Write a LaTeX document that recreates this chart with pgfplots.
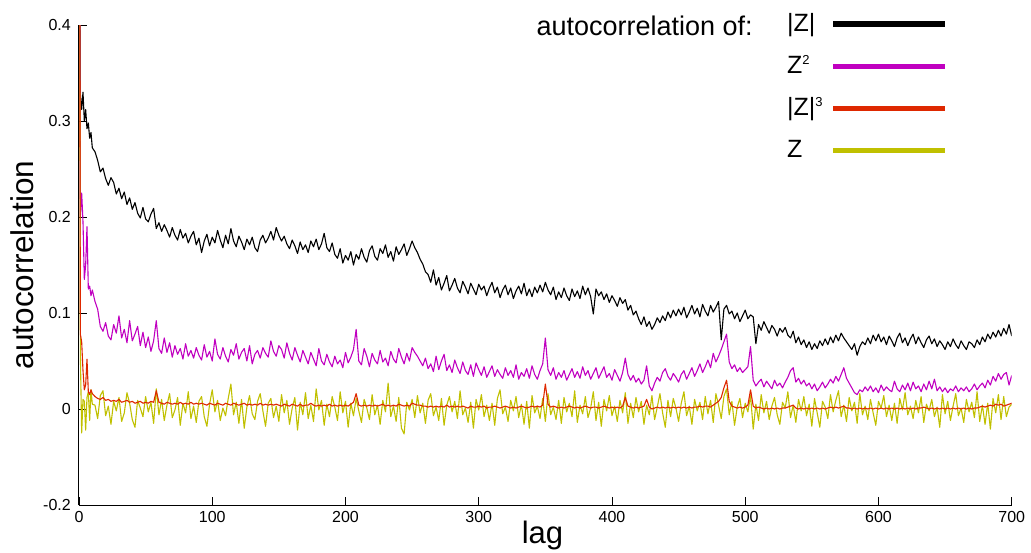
\documentclass[border=0pt]{standalone}
\usepackage{fontspec}
\setmainfont{Liberation Sans}
\usepackage{pgfplots}
\pgfplotsset{compat=1.18}
\usepackage{pgfplotstable}
\definecolor{cmag}{RGB}{192,0,192}
\definecolor{cred}{RGB}{222,40,0}
\definecolor{cyel}{RGB}{192,192,0}

\pgfplotstableread{
lag B M R Y
0 1 1 1 1
1 0.328 0.200 0.078 0.060
2 0.312 0.225 0.070 -0.025
3 0.330 0.195 0.040 0.010
4 0.300 0.135 0.020 0.008
5 0.312 0.150 0.025 -0.022
6 0.292 0.190 0.052 0.012
7 0.298 0.125 0.018 0.018
8 0.282 0.128 0.015 -0.012
9 0.288 0.118 0.020 0.020
10 0.272 0.124 0.016 0.005
12 0.268 0.112 0.013 0.004
14 0.259 0.104 0.011 -0.010
16 0.247 0.086 0.010 0.014
18 0.251 0.081 0.012 0.019
20 0.240 0.090 0.009 -0.007
22 0.233 0.076 0.010 0.003
24 0.241 0.072 0.008 -0.016
26 0.236 0.088 0.009 0.008
28 0.224 0.079 0.008 -0.002
30 0.230 0.097 0.010 0.012
32 0.219 0.074 0.007 -0.013
34 0.226 0.083 0.008 -0.004
36 0.213 0.069 0.009 0.017
38 0.220 0.092 0.007 0.006
40 0.208 0.071 0.008 -0.011
42 0.215 0.078 0.006 -0.019
44 0.204 0.086 0.007 0.009
46 0.199 0.066 0.008 0.001
48 0.210 0.080 0.006 -0.008
50 0.198 0.064 0.007 0.013
52 0.195 0.075 0.006 -0.003
54 0.203 0.060 0.008 0.007
56 0.209 0.071 0.007 -0.015
58 0.188 0.092 0.019 0.021
60 0.194 0.063 0.007 -0.006
62 0.185 0.058 0.006 0.010
64 0.192 0.074 0.005 -0.012
66 0.186 0.059 0.007 0.004
68 0.179 0.069 0.006 0.016
70 0.189 0.054 0.005 -0.009
72 0.181 0.066 0.006 -0.001
74 0.176 0.057 0.005 0.012
76 0.187 0.063 0.007 -0.017
78 0.178 0.052 0.005 0.006
80 0.183 0.068 0.006 -0.004
82 0.173 0.055 0.005 0.018
84 0.180 0.061 0.007 -0.010
86 0.185 0.053 0.005 0.003
88 0.171 0.064 0.006 -0.014
90 0.178 0.056 0.005 0.008
92 0.163 0.051 0.006 0.013
94 0.175 0.067 0.005 -0.008
96 0.182 0.054 0.004 -0.018
98 0.170 0.060 0.006 0.005
100 0.179 0.050 0.005 0.020
102 0.173 0.073 0.004 -0.003
104 0.186 0.057 0.006 0.009
106 0.176 0.052 0.005 -0.012
108 0.168 0.064 0.004 0.001
110 0.181 0.055 0.006 -0.007
112 0.172 0.049 0.005 0.011
114 0.188 0.062 0.004 0.026
116 0.175 0.056 0.006 -0.006
118 0.169 0.068 0.005 0.007
120 0.180 0.052 0.004 -0.015
122 0.174 0.059 0.005 0.010
124 0.166 0.063 0.006 -0.020
126 0.177 0.050 0.004 0.002
128 0.171 0.066 0.005 0.014
130 0.179 0.047 0.004 -0.005
132 0.168 0.057 0.005 -0.011
134 0.164 0.061 0.004 0.008
136 0.176 0.053 0.006 0.016
138 0.181 0.064 0.004 -0.002
140 0.173 0.058 0.005 -0.018
142 0.178 0.054 0.004 0.006
144 0.185 0.071 0.005 0.011
146 0.176 0.060 0.004 -0.009
148 0.189 0.055 0.005 0.003
150 0.181 0.066 0.004 -0.013
152 0.175 0.062 0.003 0.015
154 0.180 0.053 0.005 -0.004
156 0.172 0.069 0.004 0.009
158 0.167 0.058 0.003 -0.016
160 0.176 0.051 0.005 0.001
162 0.170 0.064 0.004 0.012
164 0.162 0.056 0.003 -0.022
166 0.174 0.049 0.005 0.007
168 0.166 0.061 0.003 -0.006
170 0.171 0.054 0.004 0.017
172 0.163 0.047 0.004 -0.010
174 0.175 0.059 0.006 0.004
176 0.169 0.052 0.004 -0.013
178 0.177 0.045 0.003 0.021
180 0.166 0.063 0.004 -0.001
182 0.172 0.050 0.003 0.009
184 0.183 0.046 0.004 -0.017
186 0.168 0.057 0.003 0.005
188 0.164 0.049 0.005 -0.008
190 0.173 0.044 0.003 0.013
192 0.161 0.055 0.004 0.002
194 0.157 0.047 0.003 -0.012
196 0.167 0.051 0.004 0.018
198 0.152 0.043 0.003 -0.004
200 0.160 0.059 0.004 0.008
202 0.155 0.048 0.003 -0.019
204 0.164 0.054 0.005 0.006
206 0.150 0.062 0.007 -0.007
208 0.161 0.083 0.016 0.011
210 0.156 0.050 0.004 -0.002
212 0.167 0.046 0.003 -0.014
214 0.158 0.063 0.004 0.010
216 0.153 0.055 0.003 0.001
218 0.165 0.044 0.004 -0.011
220 0.170 0.058 0.003 0.015
222 0.159 0.051 0.004 -0.006
224 0.155 0.047 0.003 0.004
226 0.167 0.061 0.004 -0.016
228 0.162 0.049 0.005 0.009
230 0.171 0.053 0.003 -0.003
232 0.158 0.045 0.004 0.027
234 0.164 0.060 0.003 -0.008
236 0.154 0.052 0.004 0.003
238 0.169 0.048 0.003 -0.013
240 0.161 0.063 0.005 0.012
242 0.166 0.054 0.004 -0.020
244 0.172 0.047 0.003 -0.026
246 0.160 0.058 0.004 0.007
248 0.167 0.050 0.003 -0.001
250 0.175 0.064 0.006 0.010
252 0.168 0.059 0.005 -0.009
254 0.163 0.055 0.004 0.014
256 0.156 0.050 0.004 -0.004
258 0.151 0.045 0.003 0.006
260 0.143 0.053 0.003 -0.015
262 0.140 0.042 0.002 0.009
264 0.132 0.047 0.003 0.016
266 0.145 0.039 0.002 -0.007
268 0.129 0.055 0.003 0.002
270 0.137 0.041 0.002 -0.012
272 0.124 0.050 0.003 0.011
274 0.131 0.057 0.002 -0.017
276 0.139 0.040 0.004 0.004
278 0.123 0.046 0.002 0.013
280 0.129 0.038 0.003 -0.003
282 0.136 0.051 0.002 0.008
284 0.126 0.043 0.003 -0.010
286 0.121 0.037 0.002 0.019
288 0.133 0.049 0.003 -0.006
290 0.127 0.040 0.002 0.001
292 0.120 0.036 0.001 -0.014
294 0.131 0.046 0.003 0.007
296 0.125 0.034 0.002 -0.020
298 0.119 0.048 0.002 0.010
300 0.130 0.041 0.003 -0.001
302 0.124 0.035 0.002 0.015
304 0.128 0.044 0.003 -0.008
306 0.118 0.033 0.001 0.004
308 0.126 0.039 0.002 -0.012
310 0.132 0.045 0.002 0.006
312 0.121 0.034 0.003 -0.017
314 0.127 0.041 0.002 0.011
316 0.116 0.036 0.001 0.020
318 0.124 0.032 0.002 -0.005
320 0.129 0.043 0.003 0.002
322 0.119 0.035 0.002 -0.013
324 0.126 0.040 0.001 0.009
326 0.115 0.033 0.002 -0.002
328 0.123 0.046 0.001 0.013
330 0.128 0.031 0.002 -0.009
332 0.120 0.038 0.003 0.005
334 0.131 0.034 0.002 -0.016
336 0.118 0.042 0.001 0.008
338 0.125 0.032 0.002 -0.020
340 0.117 0.045 0.003 0.014
342 0.127 0.036 0.002 -0.004
344 0.121 0.031 0.003 0.003
346 0.129 0.040 0.002 -0.010
348 0.122 0.047 0.004 0.011
350 0.132 0.074 0.026 -0.013
352 0.124 0.041 0.005 0.016
354 0.119 0.035 0.002 -0.006
356 0.127 0.043 0.003 0.002
358 0.114 0.031 0.002 -0.011
360 0.122 0.038 0.001 0.009
362 0.116 0.033 0.002 -0.015
364 0.126 0.040 0.001 0.012
366 0.118 0.030 0.002 -0.003
368 0.113 0.036 0.003 0.006
370 0.125 0.042 0.002 -0.008
372 0.117 0.033 0.001 0.019
374 0.123 0.039 0.002 -0.014
376 0.115 0.032 0.001 0.004
378 0.128 0.044 0.002 -0.005
380 0.119 0.035 0.003 0.013
382 0.126 0.040 0.002 -0.009
384 0.117 0.031 0.001 0.001
386 0.099 0.037 0.002 0.018
388 0.125 0.043 0.002 -0.012
390 0.118 0.032 0.001 0.007
392 0.122 0.038 0.002 -0.018
394 0.114 0.044 0.003 0.010
396 0.120 0.033 0.002 -0.002
398 0.111 0.037 0.001 0.014
400 0.118 0.030 0.002 -0.007
402 0.113 0.041 0.001 0.003
404 0.107 0.035 0.002 -0.013
406 0.116 0.029 0.001 0.009
408 0.110 0.038 0.003 -0.004
410 0.114 0.053 0.012 0.017
412 0.103 0.036 0.003 -0.015
414 0.108 0.030 0.002 0.006
416 0.098 0.035 0.001 -0.009
418 0.102 0.028 0.002 0.012
420 0.094 0.032 0.001 -0.003
422 0.088 0.026 0.002 0.008
424 0.096 0.030 0.003 -0.016
426 0.086 0.045 0.010 0.004
428 0.091 0.024 0.002 -0.006
430 0.083 0.019 0.000 0.014
432 0.088 0.027 0.001 -0.011
434 0.095 0.033 0.002 0.002
436 0.090 0.029 0.001 0.016
438 0.097 0.038 0.002 -0.004
440 0.092 0.042 0.001 -0.019
442 0.101 0.034 0.002 0.009
444 0.095 0.030 0.001 -0.008
446 0.103 0.037 0.002 0.011
448 0.097 0.033 0.001 0.001
450 0.104 0.028 0.002 -0.013
452 0.098 0.036 0.001 0.006
454 0.106 0.040 0.002 0.018
456 0.095 0.031 0.001 -0.007
458 0.101 0.037 0.002 0.003
460 0.108 0.043 0.001 -0.016
462 0.099 0.034 0.002 0.010
464 0.105 0.040 0.002 -0.002
466 0.096 0.047 0.003 0.007
468 0.109 0.038 0.002 -0.011
470 0.102 0.044 0.003 0.013
472 0.097 0.051 0.003 -0.005
474 0.108 0.043 0.002 0.009
476 0.101 0.058 0.004 -0.014
478 0.106 0.049 0.006 0.016
480 0.112 0.055 0.008 0.004
482 0.072 0.062 0.012 -0.010
484 0.104 0.070 0.022 0.013
486 0.108 0.078 0.030 0.021
488 0.099 0.049 0.008 -0.006
490 0.102 0.042 0.003 0.008
492 0.094 0.046 0.002 -0.017
494 0.100 0.039 0.001 0.002
496 0.091 0.043 0.002 0.011
498 0.097 0.038 0.001 -0.009
500 0.103 0.041 0.002 0.006
502 0.094 0.044 0.004 -0.003
504 0.098 0.065 0.020 0.014
506 0.096 0.030 0.003 -0.021
508 0.068 0.024 0.001 0.005
510 0.088 0.028 0.002 -0.012
512 0.082 0.031 0.001 0.015
514 0.091 0.023 0.000 -0.004
516 0.085 0.029 0.001 0.008
518 0.079 0.025 0.000 -0.011
520 0.087 0.021 0.001 0.003
522 0.083 0.030 0.000 0.012
524 0.076 0.024 0.001 -0.006
526 0.084 0.027 0.000 -0.016
528 0.080 0.022 0.001 0.007
530 0.085 0.028 0.001 0.001
532 0.077 0.033 0.002 0.018
534 0.074 0.040 0.003 -0.009
536 0.081 0.043 0.004 0.004
538 0.069 0.028 0.001 -0.014
540 0.075 0.032 0.000 0.010
542 0.067 0.026 0.001 -0.002
544 0.072 0.030 0.000 0.013
546 0.064 0.024 0.001 -0.007
548 0.070 0.027 0.000 0.005
550 0.062 0.021 0.001 -0.018
552 0.068 0.026 0.000 0.011
554 0.063 0.019 0.001 -0.004
556 0.071 0.023 0.000 -0.019
558 0.066 0.028 0.001 0.008
560 0.073 0.022 0.000 0.002
562 0.067 0.026 0.001 -0.010
564 0.075 0.031 0.002 0.015
566 0.069 0.027 0.001 -0.003
568 0.077 0.034 0.002 0.009
570 0.071 0.029 0.001 0.019
572 0.079 0.036 0.002 -0.008
574 0.074 0.043 0.003 0.004
576 0.070 0.032 0.001 -0.013
578 0.066 0.027 0.001 0.012
580 0.062 0.022 0.000 -0.002
582 0.068 0.017 0.001 0.007
584 0.056 0.015 0.000 -0.015
586 0.065 0.020 0.001 0.016
588 0.070 0.018 0.000 -0.006
590 0.067 0.023 0.001 0.003
592 0.074 0.019 0.000 -0.011
594 0.068 0.024 0.001 0.010
596 0.077 0.018 0.000 -0.004
598 0.071 0.022 0.001 -0.017
600 0.078 0.017 0.000 0.008
602 0.070 0.025 0.001 0.001
604 0.075 0.019 0.000 0.014
606 0.067 0.023 0.001 -0.008
608 0.076 0.020 0.000 0.004
610 0.071 0.018 0.001 -0.012
612 0.065 0.029 0.000 0.006
614 0.074 0.021 0.001 -0.015
616 0.079 0.018 0.000 0.011
618 0.069 0.025 0.001 -0.001
620 0.074 0.020 0.000 0.017
622 0.066 0.027 0.001 -0.006
624 0.073 0.019 0.000 0.003
626 0.078 0.028 0.001 -0.010
628 0.068 0.021 0.000 0.009
630 0.075 0.024 0.001 -0.004
632 0.069 0.018 0.001 0.013
634 0.064 0.026 0.002 -0.014
636 0.072 0.020 0.001 0.005
638 0.076 0.029 0.000 -0.002
640 0.068 0.021 0.001 0.010
642 0.073 0.031 0.000 -0.008
644 0.065 0.019 0.001 0.002
646 0.071 0.023 0.000 -0.019
648 0.067 0.018 0.001 0.015
650 0.062 0.022 0.000 -0.005
652 0.070 0.017 0.001 0.008
654 0.065 0.021 0.000 -0.012
656 0.073 0.019 0.001 0.003
658 0.067 0.024 0.000 0.016
660 0.063 0.018 0.001 -0.007
662 0.071 0.022 0.000 0.001
664 0.066 0.019 0.001 -0.014
666 0.062 0.023 0.000 0.010
668 0.070 0.018 0.001 -0.003
670 0.068 0.021 0.000 0.007
672 0.064 0.026 0.001 -0.009
674 0.072 0.020 0.001 0.018
676 0.067 0.024 0.002 -0.013
678 0.075 0.027 0.003 0.004
680 0.070 0.022 0.002 -0.016
682 0.078 0.030 0.003 0.006
684 0.073 0.025 0.004 -0.021
686 0.080 0.034 0.003 0.011
688 0.075 0.029 0.005 -0.004
690 0.082 0.037 0.004 0.015
692 0.076 0.031 0.005 -0.011
694 0.084 0.036 0.003 0.013
696 0.078 0.038 0.004 -0.008
698 0.088 0.025 0.005 0.002
700 0.076 0.035 0.006 0.005
}\acf

\begin{document}
\begin{tikzpicture}
\begin{axis}[
  at={(0,0)}, anchor=south west,
  scale only axis, width=932.7pt, height=480pt,
  xmin=0, xmax=700, ymin=-0.1, ymax=0.4,
  axis lines*=left,
  axis line style={line width=1pt, black},
  tick align=inside, major tick length=8pt,
  tick style={line width=0.8pt, black},
  xtick={0,100,...,700},
  ytick={-0.1,0,0.1,0.2,0.3,0.4},
  yticklabels={-0.2,0,0.1,0.2,0.3,0.4},
  /pgf/number format/assume math mode=true,
  ticklabel style={font=\fontsize{16}{18}\selectfont},
  xticklabel style={anchor=north, inner sep=0pt, yshift=-6.5pt},
  yticklabel style={anchor=east, inner sep=0pt, xshift=-8pt},
  xlabel={lag}, ylabel={autocorrelation},
  xlabel style={at={(axis description cs:0.497,-0.0792)}, anchor=base, inner sep=0pt, font=\fontsize{31}{31}\selectfont},
  ylabel style={at={(axis description cs:-0.04825,0.5)}, anchor=base, inner sep=0pt, font=\fontsize{31.5}{31.5}\selectfont},
  legend style={at={(rel axis cs:0.7591,1.046)}, anchor=north west, draw=none, fill=none,
    inner sep=0pt, outer sep=0pt, row sep=0pt, column sep=8pt,
    font=\fontsize{25}{25}\selectfont,
    nodes={inner sep=0pt, text height=28.1pt, text depth=14.1pt}},
  legend cell align=left,
  legend plot pos=right,
  legend image code/.code={\draw[#1] (0pt,0pt) -- (112pt,0pt);},
  every axis plot/.append style={line join=round},
]
\addplot[black, line width=1.1pt, forget plot] table[x=lag,y=B]{\acf};
\addplot[cmag, line width=1.1pt, forget plot] table[x=lag,y=M]{\acf};
\addplot[cyel, line width=1.1pt, forget plot] table[x=lag,y=Y]{\acf};
\addplot[cred, line width=1.1pt, forget plot] table[x=lag,y=R]{\acf};
\addlegendimage{black, line width=5.5pt}
\addlegendentry{|Z|}
\addlegendimage{cmag, line width=5pt}
\addlegendentry{Z\raisebox{8.5pt}{\fontsize{13}{13}\selectfont 2}}
\addlegendimage{cred, line width=5pt}
\addlegendentry{|Z|\raisebox{8.5pt}{\fontsize{13}{13}\selectfont 3}}
\addlegendimage{cyel, line width=5pt}
\addlegendentry{Z}
\end{axis}
\node[anchor=base east, inner sep=0pt, font=\fontsize{27}{27}\selectfont] at (674pt,469pt) {autocorrelation of:};
\pgfresetboundingbox
\useasboundingbox (-79pt,-47pt) rectangle (952pt,505pt);
\end{tikzpicture}
\end{document}
